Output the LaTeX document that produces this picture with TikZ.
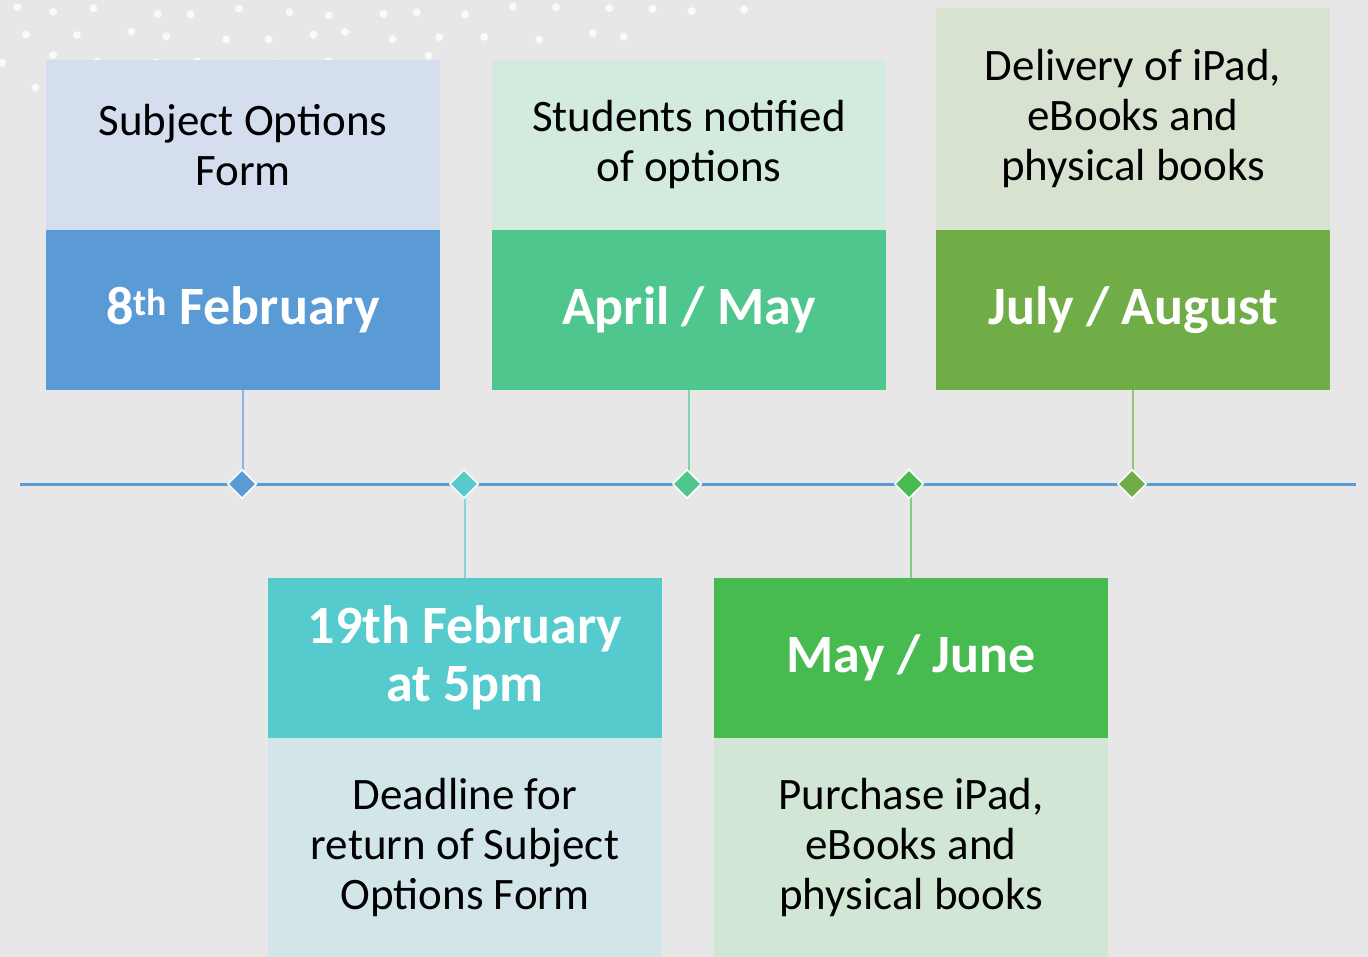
\documentclass[tikz,border=0pt]{standalone}
\usepackage{fontspec}
\setmainfont{Carlito}
\usetikzlibrary{shapes.geometric}
\definecolor{bg}{HTML}{E7E7E7}
\definecolor{lblue}{HTML}{D4DEEE}
\definecolor{dblue}{HTML}{5B9BD5}
\definecolor{cblue}{HTML}{8DB4E2}
\definecolor{lmint}{HTML}{D3EADF}
\definecolor{dmint}{HTML}{4EC68E}
\definecolor{cmint}{HTML}{80D3AA}
\definecolor{lolive}{HTML}{D7E3D0}
\definecolor{dolive}{HTML}{70AD47}
\definecolor{colive}{HTML}{96C27B}
\definecolor{lteal}{HTML}{D2E6EA}
\definecolor{dteal}{HTML}{55CBCD}
\definecolor{cteal}{HTML}{80D8DA}
\definecolor{lgreen}{HTML}{D2E6D6}
\definecolor{dgreen}{HTML}{47BB4F}
\definecolor{cgreen}{HTML}{7ECB82}
\tikzset{
  panel/.style={rectangle, inner sep=0pt, minimum width=394pt, align=center},
  desc/.style={panel, text=black, font=\fontsize{45}{50}\selectfont},
  date/.style={panel, text=white, minimum height=160pt, font=\bfseries\fontsize{54}{58}\selectfont},
  tmark/.style={diamond, draw=white, line width=1.5pt, inner sep=0pt, minimum size=29pt},
  conn/.style={line width=2pt}
}
\begin{document}
\begin{tikzpicture}[x=1pt,y=-1pt]
\fill[bg] (0,0) rectangle (1368,957);
\useasboundingbox (0,0) rectangle (1368,957);
% dots
\pgfmathsetseed{7}
\foreach \i in {0,...,16}{
  \foreach \j in {0,...,4}{
    \pgfmathsetmacro{\px}{\i*46+ 20*rnd + mod(\j,2)*23}
    \pgfmathsetmacro{\py}{\j*24 + 6 + 10*rnd}
    \pgfmathsetmacro{\ok}{(\py < 102 - \px*0.1) ? 1 : 0}
    \ifdim\ok pt>0.5pt
      \fill[white, opacity=0.8] (\px,\py) circle (4pt);
    \fi
  }
}
% timeline
\coordinate (tl) at (20,484);
\coordinate (tr) at (1356,484);
\draw[dblue, line width=3pt] (tl) -- (tr);
% top panels
\node[desc, fill=lblue, minimum height=170pt] (d1) at (243,145) {Subject Options\\Form};
\node[date, fill=dblue] (t1) at (243,310) {8\textsuperscript{th} February};
\node[desc, fill=lmint, minimum height=170pt] (d3) at (689,145) {Students notified\\of options};
\node[date, fill=dmint] (t3) at (689,310) {April / May};
\node[desc, fill=lolive, minimum height=222pt] (d5) at (1133,119) {Delivery of iPad,\\eBooks and\\physical books};
\node[date, fill=dolive] (t5) at (1133,310) {July / August};
% bottom panels
\node[date, fill=dteal] (t2) at (465,658) {19th February\\at 5pm};
\node[desc, fill=lteal, minimum height=219pt] (d2) at (465,847.5) {Deadline for\\return of Subject\\Options Form};
\node[date, fill=dgreen] (t4) at (911,658) {May / June};
\node[desc, fill=lgreen, minimum height=219pt] (d4) at (911,847.5) {Purchase iPad,\\eBooks and\\physical books};
% markers
\coordinate (m1c) at (242,484);
\coordinate (m2c) at (464,484);
\coordinate (m3c) at (687,484);
\coordinate (m4c) at (909,484);
\coordinate (m5c) at (1132,484);
\draw[conn, cblue] (t1.south) -- (t1.south |- m1c);
\draw[conn, cmint] (t3.south) -- (t3.south |- m3c);
\draw[conn, colive] (t5.south) -- (t5.south |- m5c);
\draw[conn, cteal] (t2.north) -- (t2.north |- m2c);
\draw[conn, cgreen] (t4.north) -- (t4.north |- m4c);
\node[tmark, fill=dblue] (m1) at (m1c) {};
\node[tmark, fill=dteal] (m2) at (m2c) {};
\node[tmark, fill=dmint] (m3) at (m3c) {};
\node[tmark, fill=dgreen] (m4) at (m4c) {};
\node[tmark, fill=dolive] (m5) at (m5c) {};
\end{tikzpicture}
\end{document}
